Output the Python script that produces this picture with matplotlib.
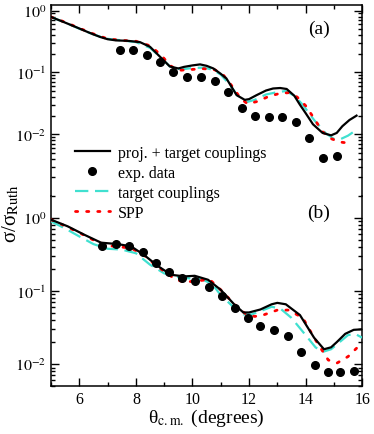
import matplotlib
matplotlib.use("Agg")
import matplotlib.pyplot as plt
from matplotlib.lines import Line2D
import numpy as np

plt.rcParams['font.family'] = ['Liberation Serif', 'DejaVu Serif']
plt.rcParams['mathtext.fontset'] = 'stix'

# ---- panel (a) ----
a_full_th = [5.0, 5.5, 5.85, 6.3, 6.73, 7.0, 7.3, 7.7, 8.14, 8.5, 8.85, 9.2, 9.5, 9.7,
             10.0, 10.27, 10.5, 10.74, 11.0, 11.2, 11.56, 11.85, 12.0, 12.27, 12.6,
             12.85, 13.1, 13.33, 13.6, 13.8, 14.0, 14.26, 14.6, 14.9, 15.1, 15.3,
             15.55, 15.8]
a_full = [0.79, 0.64, 0.55, 0.45, 0.376, 0.345, 0.33, 0.325, 0.31, 0.26, 0.18, 0.125,
          0.116, 0.123, 0.13, 0.135, 0.128, 0.116, 0.095, 0.08, 0.043, 0.036, 0.037,
          0.043, 0.051, 0.055, 0.056, 0.054, 0.042, 0.03, 0.022, 0.0145, 0.0105,
          0.0096, 0.0105, 0.0135, 0.017, 0.02]

a_targ_th = [5.0, 5.5, 6.0, 6.5, 7.0, 7.5, 8.0, 8.5, 8.85, 9.2, 9.6, 10.0, 10.4, 10.74,
             11.0, 11.3, 11.6, 11.9, 12.2, 12.6, 13.0, 13.3, 13.6, 13.9, 14.3, 14.7,
             15.0, 15.2, 15.5, 15.8]
a_targ = [0.79, 0.64, 0.51, 0.41, 0.35, 0.33, 0.31, 0.25, 0.18, 0.125, 0.112, 0.118,
          0.12, 0.11, 0.092, 0.065, 0.042, 0.033, 0.036, 0.044, 0.048, 0.05, 0.042,
          0.03, 0.017, 0.0105, 0.0084, 0.0082, 0.0095, 0.0118]

a_spp_th = [5.0, 5.5, 6.0, 6.5, 7.0, 7.5, 8.0, 8.5, 8.9, 9.2, 9.5, 10.0, 10.4, 10.8,
            11.1, 11.4, 11.7, 11.95, 12.3, 12.7, 13.1, 13.4, 13.7, 14.0, 14.3, 14.6,
            14.9, 15.2, 15.4, 15.6]
a_spp = [0.79, 0.65, 0.52, 0.42, 0.35, 0.33, 0.32, 0.27, 0.19, 0.13, 0.108, 0.112,
         0.115, 0.11, 0.09, 0.06, 0.038, 0.031, 0.034, 0.041, 0.046, 0.047, 0.04,
         0.029, 0.018, 0.011, 0.0085, 0.0075, 0.0073, 0.0085]

a_exp_th = [7.44, 7.89, 8.38, 8.85, 9.32, 9.82, 10.29, 10.8, 11.27, 11.74, 12.2, 12.7,
            13.17, 13.65, 14.13, 14.6, 15.1]
a_exp = [0.235, 0.229, 0.195, 0.145, 0.1, 0.085, 0.083, 0.074, 0.049, 0.027, 0.020,
         0.019, 0.019, 0.016, 0.0087, 0.0041, 0.0044]

# ---- panel (b) ----
b_full_th = [5.0, 5.59, 6.18, 6.77, 7.36, 7.83, 8.3, 8.78, 9.25, 9.72, 10.08, 10.55,
             11.0, 11.49, 11.8, 12.0, 12.4, 12.8, 13.0, 13.3, 13.8, 14.3, 14.65, 14.9,
             15.1, 15.4, 15.7, 16.0]
b_full = [0.95, 0.77, 0.59, 0.46, 0.44, 0.41, 0.31, 0.22, 0.167, 0.159, 0.162, 0.143,
          0.104, 0.065, 0.051, 0.051, 0.056, 0.066, 0.069, 0.066, 0.047, 0.023, 0.016,
          0.017, 0.020, 0.026, 0.0295, 0.030]

b_targ_th = [5.0, 5.5, 6.0, 6.5, 7.0, 7.5, 8.0, 8.5, 9.0, 9.5, 10.0, 10.3, 10.7, 11.0,
             11.5, 11.8, 12.1, 12.5, 12.8, 13.1, 13.5, 14.0, 14.35, 14.6, 14.9, 15.2,
             15.5, 15.75, 16.0]
b_targ = [0.90, 0.72, 0.56, 0.44, 0.38, 0.37, 0.33, 0.23, 0.175, 0.155, 0.148, 0.147,
          0.125, 0.088, 0.058, 0.048, 0.048, 0.055, 0.061, 0.058, 0.043, 0.025, 0.017,
          0.0147, 0.016, 0.020, 0.025, 0.026, 0.023]

b_spp_th = [5.0, 5.5, 6.0, 6.5, 7.0, 7.5, 7.8, 8.2, 8.6, 9.0, 9.4, 9.7, 10.2, 10.6,
            11.0, 11.5, 11.9, 12.2, 12.5, 13.0, 13.4, 13.9, 14.3, 14.8, 15.1, 15.5, 15.9]
b_spp = [0.95, 0.78, 0.63, 0.50, 0.42, 0.40, 0.39, 0.33, 0.245, 0.186, 0.145, 0.133,
         0.138, 0.145, 0.104, 0.065, 0.048, 0.045, 0.047, 0.055, 0.055, 0.043, 0.023,
         0.0114, 0.0103, 0.0127, 0.018]

b_exp_th = [6.8, 7.3, 7.77, 8.24, 8.7, 9.16, 9.63, 10.1, 10.58, 11.05, 11.52, 11.97,
            12.4, 12.9, 13.37, 13.85, 14.32, 14.8, 15.23, 15.7]
b_exp = [0.41, 0.44, 0.42, 0.34, 0.24, 0.18, 0.15, 0.138, 0.115, 0.087, 0.058, 0.043,
         0.033, 0.029, 0.024, 0.0149, 0.0098, 0.0079, 0.0078, 0.0081]

fig = plt.figure(figsize=(3.74, 4.35), dpi=100)
ax_a = fig.add_axes([0.1364, 0.547, 0.832, 0.440])
ax_b = fig.add_axes([0.1364, 0.110, 0.832, 0.437])

cyan = '#40E0D0'
red_dash = (0.8, 3.2)


def draw(ax, fth, f, tth, t, sth, s, eth, e):
    ax.plot(fth, f, color='black', lw=1.6, zorder=4)
    ax.errorbar(eth, e, yerr=np.array(e) * 0.06, fmt='o', color='black', ms=5.5,
                capsize=1.5, elinewidth=1, zorder=5)
    ax.plot(tth, t, color=cyan, lw=1.6, dashes=(6, 3), zorder=3)
    ax.plot(sth, s, color='red', lw=2.0, dashes=red_dash, dash_capstyle='round', zorder=3)
    ax.set_yscale('log')
    ax.set_xlim(5, 16)
    ax.xaxis.set_major_locator(matplotlib.ticker.MultipleLocator(2))
    ax.xaxis.set_minor_locator(matplotlib.ticker.MultipleLocator(1))
    ax.yaxis.set_major_locator(matplotlib.ticker.LogLocator(base=10))
    ax.yaxis.set_minor_locator(matplotlib.ticker.LogLocator(base=10, subs=np.arange(2, 10)))
    ax.yaxis.set_minor_formatter(matplotlib.ticker.NullFormatter())
    ax.tick_params(which='both', direction='in', left=True, right=True, labelsize=11.5)
    ax.tick_params(which='major', length=5.5, width=1)
    ax.tick_params(which='minor', length=3, width=1)
    for sp in ax.spines.values():
        sp.set_linewidth(1.1)


draw(ax_a, a_full_th, a_full, a_targ_th, a_targ, a_spp_th, a_spp, a_exp_th, a_exp)
draw(ax_b, b_full_th, b_full, b_targ_th, b_targ, b_spp_th, b_spp, b_exp_th, b_exp)

ax_a.set_ylim(1e-3, 1.25)
ax_b.set_ylim(5e-3, 2.0)
for ax in (ax_a, ax_b):
    ax.set_yticks([1e-2, 1e-1, 1])
    ax.set_yticklabels([r'$10^{-2}$', r'$10^{-1}$', r'$10^{0}$'])

ax_a.spines['bottom'].set_visible(False)
ax_b.spines['top'].set_visible(False)
ax_a.tick_params(axis='x', which='both', bottom=False, top=True, labelbottom=False)
ax_b.tick_params(axis='x', which='both', bottom=True, top=False)

ax_a.text(0.86, 0.878, '(a)', transform=ax_a.transAxes, fontsize=14, ha='center', va='center')
ax_b.text(0.86, 0.915, '(b)', transform=ax_b.transAxes, fontsize=14, ha='center', va='center')

ax_b.set_xlabel(r'θ$_{\mathrm{c.m.}}$ (degrees)', fontsize=14, labelpad=0)
fig.text(0.028, 0.51, r'σ/σ$_{\mathrm{Ruth}}$', rotation=90, fontsize=15,
         ha='center', va='center')

handles = [
    Line2D([], [], color='black', lw=1.6),
    Line2D([], [], color='black', ls='none', marker='o', ms=5.5),
    Line2D([], [], color=cyan, lw=1.6, dashes=(6, 3)),
    Line2D([], [], color='red', lw=2.0, dashes=red_dash, dash_capstyle='round'),
]
labels = ['proj. + target couplings', 'exp. data', 'target couplings', 'SPP']
fig.legend(handles, labels, loc='upper left', bbox_to_anchor=(0.17, 0.69), frameon=False,
           fontsize=11.5, handlelength=2.2, handletextpad=0.5, labelspacing=0.25,
           borderpad=0.2)

fig.savefig('out.png', dpi=100)
